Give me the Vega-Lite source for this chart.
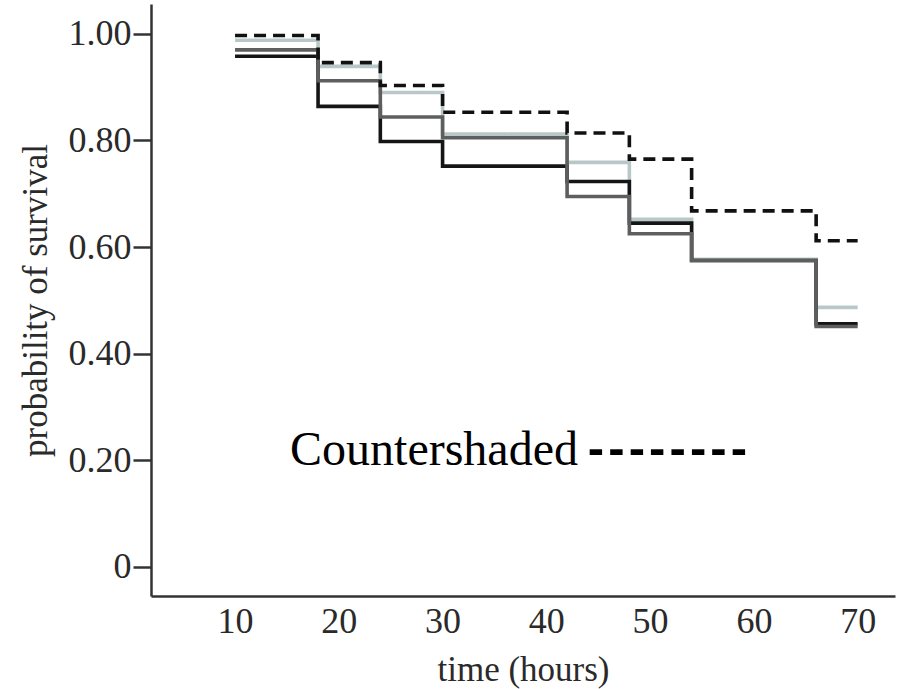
{
  "$schema": "https://vega.github.io/schema/vega-lite/v6.json",
  "width": 744,
  "height": 592,
  "autosize": {"type": "none"},
  "padding": {"left": 151, "top": 4, "right": 6, "bottom": 93},
  "background": "white",
  "config": {
    "view": {"stroke": null},
    "font": "Liberation Serif",
    "axis": {
      "grid": false,
      "domainColor": "#333333",
      "domainWidth": 2.5,
      "tickColor": "#333333",
      "tickWidth": 2.5,
      "labelFont": "Liberation Serif",
      "labelFontSize": 36,
      "labelColor": "#2a2a2a",
      "titleFont": "Liberation Serif",
      "titleFontSize": 35,
      "titleFontWeight": "normal",
      "titleColor": "#2a2a2a"
    }
  },
  "datasets": {
    "survival": [
      {"group": "light", "time": 10, "p": 0.988},
      {"group": "light", "time": 18, "p": 0.939},
      {"group": "light", "time": 24, "p": 0.890},
      {"group": "light", "time": 30, "p": 0.812},
      {"group": "light", "time": 42, "p": 0.759},
      {"group": "light", "time": 48, "p": 0.652},
      {"group": "light", "time": 54, "p": 0.577},
      {"group": "light", "time": 66, "p": 0.487},
      {"group": "light", "time": 70, "p": 0.487},
      {"group": "black", "time": 10, "p": 0.958},
      {"group": "black", "time": 18, "p": 0.864},
      {"group": "black", "time": 24, "p": 0.798},
      {"group": "black", "time": 30, "p": 0.752},
      {"group": "black", "time": 42, "p": 0.723},
      {"group": "black", "time": 48, "p": 0.645},
      {"group": "black", "time": 54, "p": 0.575},
      {"group": "black", "time": 66, "p": 0.456},
      {"group": "black", "time": 70, "p": 0.456},
      {"group": "dark", "time": 10, "p": 0.970},
      {"group": "dark", "time": 18, "p": 0.912},
      {"group": "dark", "time": 24, "p": 0.844},
      {"group": "dark", "time": 30, "p": 0.805},
      {"group": "dark", "time": 42, "p": 0.695},
      {"group": "dark", "time": 48, "p": 0.625},
      {"group": "dark", "time": 54, "p": 0.575},
      {"group": "dark", "time": 66, "p": 0.451},
      {"group": "dark", "time": 70, "p": 0.451},
      {"group": "Countershaded", "time": 10, "p": 0.997},
      {"group": "Countershaded", "time": 18, "p": 0.946},
      {"group": "Countershaded", "time": 24, "p": 0.903},
      {"group": "Countershaded", "time": 30, "p": 0.853},
      {"group": "Countershaded", "time": 42, "p": 0.814},
      {"group": "Countershaded", "time": 48, "p": 0.765},
      {"group": "Countershaded", "time": 54, "p": 0.668},
      {"group": "Countershaded", "time": 66, "p": 0.612},
      {"group": "Countershaded", "time": 70, "p": 0.612}
    ],
    "note": [
      {"label": "Countershaded", "time": 15.3, "p": 0.191}
    ],
    "noteKey": [
      {"label": "-\u200a-\u200a-\u200a-\u200a-\u200a-\u200a-\u200a-", "time": 44.0, "p": 0.191}
    ]
  },
  "layer": [
    {
      "data": {"name": "survival"},
      "mark": {"type": "line", "interpolate": "step-after", "strokeWidth": 3.6, "strokeCap": "butt"},
      "encoding": {
        "x": {
          "field": "time",
          "type": "quantitative",
          "scale": {"domain": [1.9, 73.6], "nice": false, "zero": false},
          "axis": {
            "title": "time (hours)",
            "values": [10, 20, 30, 40, 50, 60, 70],
            "ticks": false,
            "labelPadding": 8,
            "titlePadding": 13
          }
        },
        "y": {
          "field": "p",
          "type": "quantitative",
          "scale": {"domain": [-0.0544, 1.056], "nice": false, "zero": false},
          "axis": {
            "title": "probability of survival",
            "values": [0, 0.2, 0.4, 0.6, 0.8, 1],
            "labelExpr": "datum.value == 0 ? '0' : format(datum.value, '.2f')",
            "tickSize": 18,
            "labelPadding": 2,
            "titlePadding": 15
          }
        },
        "color": {
          "field": "group",
          "type": "nominal",
          "legend": null,
          "scale": {
            "domain": ["light", "black", "dark", "Countershaded"],
            "range": ["#b8c8c8", "#151515", "#5e5e5e", "#111111"]
          }
        },
        "strokeDash": {
          "field": "group",
          "type": "nominal",
          "legend": null,
          "scale": {
            "domain": ["light", "black", "dark", "Countershaded"],
            "range": [[1, 0], [1, 0], [1, 0], [12, 7]]
          }
        },
        "order": {"field": "time"}
      }
    },
    {
      "data": {"name": "note"},
      "mark": {"type": "text", "align": "left", "baseline": "alphabetic", "font": "Liberation Serif", "fontSize": 48, "color": "#000000"},
      "encoding": {
        "x": {"field": "time", "type": "quantitative"},
        "y": {"field": "p", "type": "quantitative"},
        "text": {"field": "label"}
      }
    },
    {
      "data": {"name": "noteKey"},
      "mark": {"type": "text", "align": "left", "baseline": "alphabetic", "font": "Liberation Sans", "fontWeight": "bold", "fontSize": 49, "color": "#000000"},
      "encoding": {
        "x": {"field": "time", "type": "quantitative"},
        "y": {"field": "p", "type": "quantitative"},
        "text": {"field": "label"}
      }
    }
  ]
}
